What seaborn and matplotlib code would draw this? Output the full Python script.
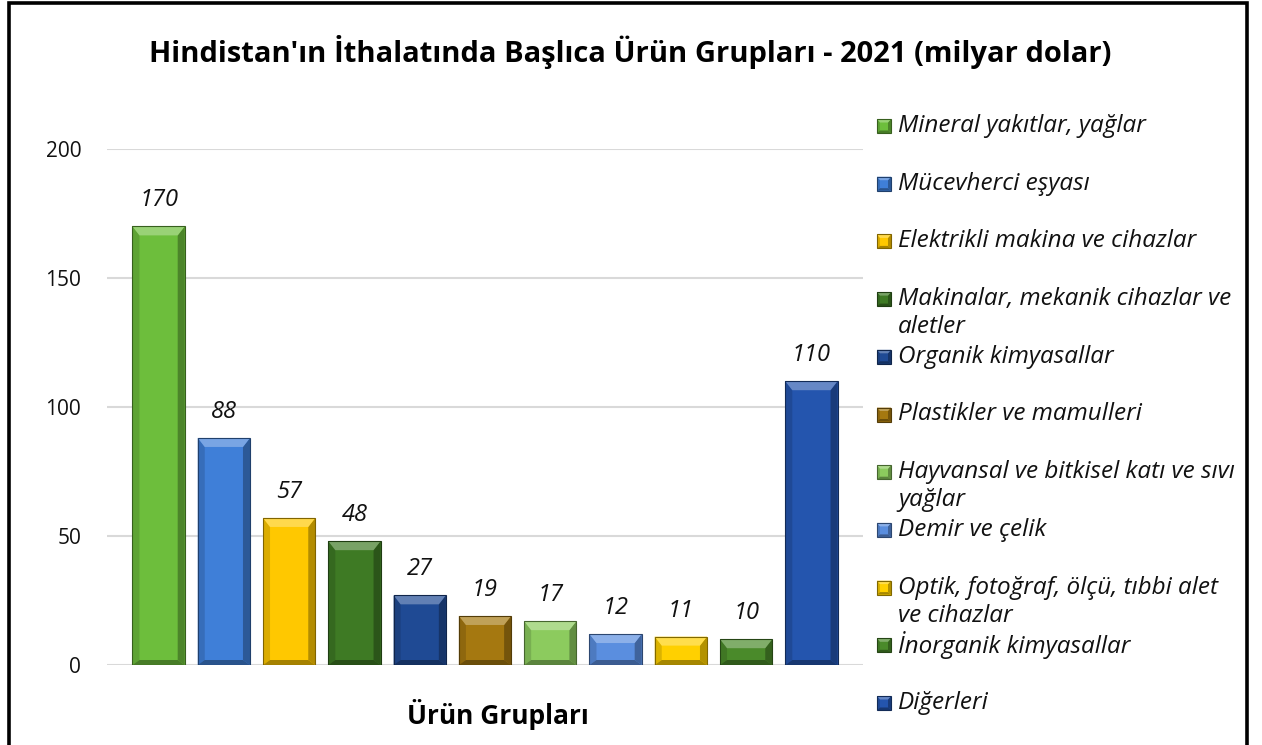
import matplotlib
matplotlib.use("Agg")
import matplotlib.pyplot as plt
import matplotlib.colors as mcolors
from matplotlib.patches import Polygon, Rectangle
import pandas as pd
import seaborn as sns

# ---- data -------------------------------------------------------------
categories = [
    "Mineral yakıtlar, yağlar",
    "Mücevherci eşyası",
    "Elektrikli makina ve cihazlar",
    "Makinalar, mekanik cihazlar ve aletler",
    "Organik kimyasallar",
    "Plastikler ve mamulleri",
    "Hayvansal ve bitkisel katı ve sıvı yağlar",
    "Demir ve çelik",
    "Optik, fotoğraf, ölçü, tıbbi alet ve cihazlar",
    "İnorganik kimyasallar",
    "Diğerleri",
]
legend_lines = [
    ["Mineral yakıtlar, yağlar"],
    ["Mücevherci eşyası"],
    ["Elektrikli makina ve cihazlar"],
    ["Makinalar, mekanik cihazlar ve", "aletler"],
    ["Organik kimyasallar"],
    ["Plastikler ve mamulleri"],
    ["Hayvansal ve bitkisel katı ve sıvı", "yağlar"],
    ["Demir ve çelik"],
    ["Optik, fotoğraf, ölçü, tıbbi alet", "ve cihazlar"],
    ["İnorganik kimyasallar"],
    ["Diğerleri"],
]
values = [170, 88, 57, 48, 27, 19, 17, 12, 11, 10, 110]
bar_colors = [
    "#6DBE3C", "#3F7FD8", "#FFC800", "#3E7A24", "#1F4A94", "#A57810",
    "#8CCB5E", "#5A8EDF", "#FFD000", "#4A8A2A", "#2455AE",
]
y_ticks = [0, 50, 100, 150, 200]
title = "Hindistan'ın İthalatında Başlıca Ürün Grupları - 2021 (milyar dolar)"
x_title = "Ürün Grupları"

# ---- style ------------------------------------------------------------
sns.set_theme(style="white")
FONT = ["Open Sans", "DejaVu Sans"]
plt.rcParams["font.family"] = FONT

W, H = 1262, 745
fig = plt.figure(figsize=(W / 100, H / 100), dpi=100)
fig.patch.set_facecolor("white")

ax_left, ax_right, ax_top, ax_bottom = 107, 863, 149, 665
ax = fig.add_axes([ax_left / W, 1 - ax_bottom / H,
                   (ax_right - ax_left) / W, (ax_bottom - ax_top) / H])

df = pd.DataFrame({"kategori": categories, "deger": values})
sns.barplot(data=df, x="kategori", y="deger", hue="kategori",
            palette=bar_colors, legend=False, width=0.8, saturation=1,
            ax=ax)

ax.set_xlim(-0.79, 10.79)
ax.set_ylim(0, 200)
ax.set_yticks(y_ticks)
ax.yaxis.grid(True, color="#D9D9D9", lw=1.5)
ax.xaxis.grid(False)
ax.set_axisbelow(True)
for s in ax.spines.values():
    s.set_visible(False)
ax.tick_params(axis="y", length=0, pad=18.5, labelsize=15, labelcolor="#111111")
ax.tick_params(axis="x", length=0, labelbottom=False)
ax.set_ylabel("")
ax.set_xlabel(x_title, fontsize=19, fontweight="bold", color="black")
ax.xaxis.set_label_coords((498 - ax_left) / (ax_right - ax_left),
                          -(715 - ax_bottom) / (ax_bottom - ax_top))
ax.xaxis.label.set_va("center")


def shade(c, f):
    r, g, b = mcolors.to_rgb(c)
    if f >= 0:
        return (r + (1 - r) * f, g + (1 - g) * f, b + (1 - b) * f)
    return (r * (1 + f), g * (1 + f), b * (1 + f))


def bevel(add, x0, y0, x1, y1, dx, dy_top, dy_bot, color, transform,
          z=3, face=False):
    """Bevelled rectangle between (x0,y0) and (x1,y1)."""
    if face:
        add(Rectangle((x0, y0), x1 - x0, y1 - y0, facecolor=color,
                      edgecolor="none", transform=transform, zorder=z - 0.1))
    ix0, ix1 = x0 + dx, x1 - dx
    iy0, iy1 = y0 + dy_bot, y1 - dy_top
    parts = [
        ([(x0, y0), (x0, y1), (ix0, iy1), (ix0, iy0)], shade(color, -0.14)),
        ([(x1, y0), (x1, y1), (ix1, iy1), (ix1, iy0)], shade(color, -0.30)),
        ([(x0, y0), (x1, y0), (ix1, iy0), (ix0, iy0)], shade(color, -0.35)),
        ([(x0, y1), (x1, y1), (ix1, iy1), (ix0, iy1)], shade(color, 0.30)),
    ]
    for pts, c in parts:
        add(Polygon(pts, closed=True, facecolor=c, edgecolor="none",
                    transform=transform, zorder=z))
    add(Rectangle((x0, y0), x1 - x0, y1 - y0, facecolor="none",
                  edgecolor=shade(color, -0.5), lw=0.8,
                  transform=transform, zorder=z + 0.1))


# data units per pixel, used for the bevel depth
px_x = 11.58 / (ax_right - ax_left)
px_y = 200.0 / (ax_bottom - ax_top)

for patch, v, c in zip(ax.patches, values, bar_colors):
    x0 = patch.get_x()
    w = patch.get_width()
    h = patch.get_height()
    patch.set_edgecolor("none")
    bevel(ax.add_patch, x0, 0, x0 + w, h, 7 * px_x, 9 * px_y, 5 * px_y,
          c, ax.transData)
    ax.annotate(f"{v}", (x0 + w / 2, h), xytext=(0, 26), textcoords="offset pixels",
                ha="center", va="center", fontsize=17, fontstyle="italic",
                color="#111111")

# ---- legend -----------------------------------------------------------
for i, (lines, c) in enumerate(zip(legend_lines, bar_colors)):
    yc = 126 + 57.7 * i
    mx0, mx1 = 877, 891
    bevel(fig.add_artist, mx0 / W, 1 - (yc + 7) / H, mx1 / W, 1 - (yc - 7) / H,
          3 / W, 3.5 / H, 2.5 / H, c, fig.transFigure, face=True)
    for j, line in enumerate(lines):
        fig.text(898 / W, 1 - (yc + 28 * j) / H, line, ha="left", va="center",
                 fontsize=17.5, fontstyle="italic", color="#111111")

# ---- title and frame --------------------------------------------------
fig.text(630 / W, 1 - 52 / H, title, ha="center", va="center",
         fontsize=21, fontweight="bold", color="black")

fig.add_artist(Rectangle((9 / W, -0.05), (1247 - 9) / W, 1.05 - 3 / H,
                         transform=fig.transFigure, fill=False,
                         edgecolor="black", lw=2.6, clip_on=False))

fig.savefig("out.png", dpi=100, facecolor="white")
